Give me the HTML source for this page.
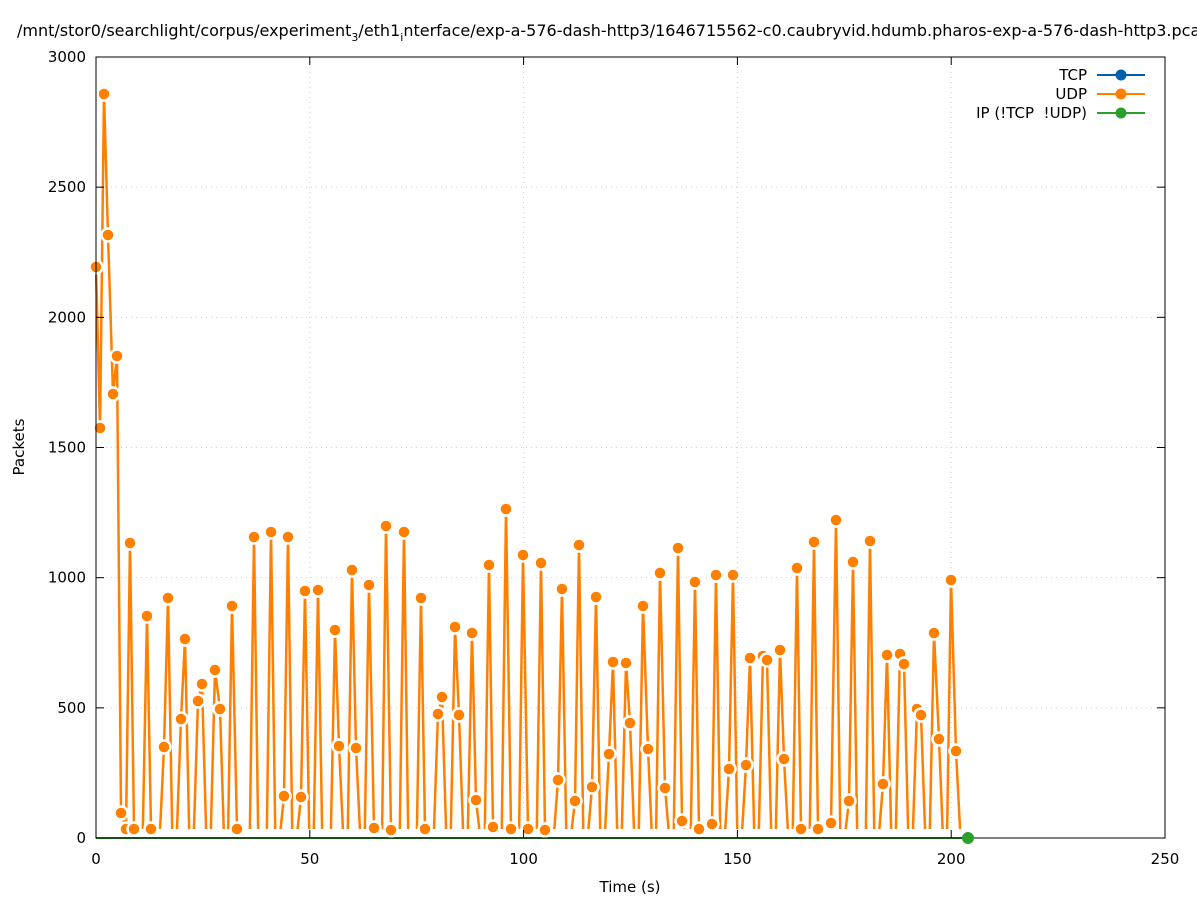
<!DOCTYPE html>
<html><head><meta charset="utf-8"><style>
html,body{margin:0;padding:0;background:#fff;width:1197px;height:900px;overflow:hidden}
svg{display:block;font-family:"DejaVu Sans","Liberation Sans",sans-serif}
</style></head><body>
<svg id="s" width="1197" height="900" viewBox="0 0 1197 900" xmlns="http://www.w3.org/2000/svg">
<defs><clipPath id="c"><rect x="90" y="50" width="1080" height="779"/></clipPath></defs>
<g id="grid" stroke="#d0d0d0" stroke-width="1" stroke-dasharray="1,4"></g>
<polyline id="green" fill="none" stroke="#2ca02c" stroke-width="2" points="96,838 968,838"/>
<g clip-path="url(#c)"><polyline id="orange" fill="none" stroke="#ff7f00" stroke-width="2.5" stroke-linejoin="miter"/></g>
<g id="marks"></g>
<rect x="96" y="57" width="1069" height="781" fill="none" stroke="#000" stroke-width="1"/>
<g id="ticks" stroke="#000" stroke-width="1"></g>
<g id="labels" font-size="15" fill="#000"></g>
<circle cx="968" cy="838" r="6" fill="#2ca02c"/>
<text x="17" y="36" font-size="16">/mnt/stor0/searchlight/corpus/experiment<tspan font-size="11" dy="5">3</tspan><tspan dy="-5">/eth1</tspan><tspan font-size="11" dy="5">i</tspan><tspan dy="-5">nterface/exp-a-576-dash-http3/1646715562-c0.caubryvid.hdumb.pharos-exp-a-576-dash-http3.pcap</tspan></text>
<text x="630" y="892" font-size="15" text-anchor="middle">Time (s)</text>
<text transform="translate(24,447) rotate(-90)" font-size="15" text-anchor="middle">Packets</text>
<g font-size="15" text-anchor="end">
<text x="1087" y="80">TCP</text><text x="1087" y="99">UDP</text><text x="1087" y="118">IP (!TCP&#160;&#160;!UDP)</text>
</g>
<g stroke-width="2">
<line x1="1097" y1="75" x2="1145" y2="75" stroke="#0060ad"/><circle cx="1121" cy="75" r="5.5" fill="#0060ad"/>
<line x1="1097" y1="94" x2="1145" y2="94" stroke="#ff7f00"/><circle cx="1121" cy="94" r="5.5" fill="#ff7f00"/>
<line x1="1097" y1="113" x2="1145" y2="113" stroke="#2ca02c"/><circle cx="1121" cy="113" r="5.5" fill="#2ca02c"/>
</g>
</svg>
<script>
var NS="http://www.w3.org/2000/svg";
function el(p,t,a){var e=document.createElementNS(NS,t);for(var k in a)e.setAttribute(k,a[k]);document.getElementById(p).appendChild(e);return e;}
for(var i=0;i<=5;i++){var x=96+i*1069/5;
 if(i>0&&i<5)el("grid","line",{x1:x,y1:57,x2:x,y2:838});
 el("ticks","line",{x1:x,y1:838,x2:x,y2:830});el("ticks","line",{x1:x,y1:57,x2:x,y2:65});
 var t=el("labels","text",{x:x,y:864,"text-anchor":"middle"});t.textContent=i*50;}
for(var j=0;j<=6;j++){var y=838-j*781/6;
 if(j>0&&j<6)el("grid","line",{x1:96,y1:y,x2:1165,y2:y});
 el("ticks","line",{x1:96,y1:y,x2:104,y2:y});el("ticks","line",{x1:1165,y1:y,x2:1157,y2:y});
 var t=el("labels","text",{x:86,y:y+5,"text-anchor":"end"});t.textContent=j*500;}
var m=[[96,267],[100,428],[104,94],[108,235],[113,394],[117,356],[121,813],[126,829],[130,543],[134,829],[147,616],[151,829],[164,747],[168,598],[181,719],[185,639],[198,701],[202,684],[215,670],[220,709],[232,606],[237,829],[254,537],[271,532],[284,796],[288,537],[301,797],[305,591],[318,590],[335,630],[339,746],[352,570],[356,748],[369,585],[374,828],[386,526],[391,830],[404,532],[421,598],[425,829],[438,714],[442,697],[455,627],[459,715],[472,633],[476,800],[489,565],[493,827],[506,509],[511,829],[523,555],[528,829],[541,563],[545,830],[558,780],[562,589],[575,801],[579,545],[592,787],[596,597],[609,754],[613,662],[626,663],[630,723],[643,606],[648,749],[660,573],[665,788],[678,548],[682,821],[695,582],[699,829],[712,824],[716,575],[729,769],[733,575],[746,765],[750,658],[763,656],[767,660],[780,650],[784,759],[797,568],[801,829],[814,542],[818,829],[831,823],[836,520],[849,801],[853,562],[870,541],[883,784],[887,655],[900,654],[904,664],[917,709],[921,715],[934,633],[939,739],[951,580],[956,751]];
var pts=[];var d=4.276;
for(var i=0;i<m.length;i++){pts.push(m[i]);
 if(i<m.length-1){var g=m[i+1][0]-m[i][0];var n=Math.round(g/d)-1;
  for(var k=1;k<=n;k++)pts.push([m[i][0]+g*k/(n+1),838]);}}
pts.push([960.5,838]);
document.getElementById("orange").setAttribute("points",pts.map(function(p){return p.join(",")}).join(" "));
m.forEach(function(p){el("marks","circle",{cx:p[0],cy:p[1],r:6.5,fill:"#ff7f00",stroke:"#fff","stroke-width":2.5});});
</script>
</body></html>
